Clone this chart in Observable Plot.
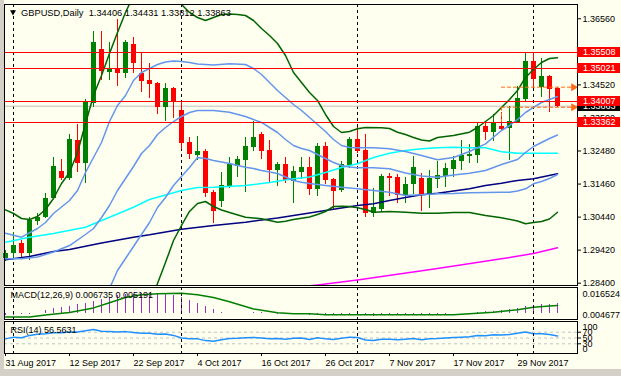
<!DOCTYPE html>
<html><head><meta charset="utf-8">
<script src="https://cdn.jsdelivr.net/npm/d3@7"></script>
<script src="https://cdn.jsdelivr.net/npm/@observablehq/plot@0.6"></script>
<style>
html,body{margin:0;padding:0;background:#ffffff;}
#chart{position:relative;width:621px;height:376px;background:#FFFFF0;overflow:hidden;font-family:"Liberation Sans",Arial,sans-serif;}
#chart svg{position:absolute;left:0;max-width:none;}
.strip{position:absolute;background:#D4D0C8;}
</style></head><body>
<div id="chart"><div class="strip" style="left:0;top:0;width:4px;height:376px"></div><div class="strip" style="left:0;top:369px;width:621px;height:7px"></div></div>
<script>
// ---------------- DATA ----------------
const symbolTitle = "GBPUSD,Daily  1.34406 1.34431 1.33812 1.33863";
const dateLabels = ["31 Aug 2017","12 Sep 2017","22 Sep 2017","4 Oct 2017","16 Oct 2017","26 Oct 2017","7 Nov 2017","17 Nov 2017","29 Nov 2017"];
const dateTickBars = [0,8,16,24,32,40,48,56,64];
const separatorBars = [1,22,44,66];

const open = [1.29153,1.29307,1.29616,1.29307,1.30314,1.30419,1.31005,1.31848,1.31622,1.32804,
1.32085,1.33956,1.35604,1.34912,1.34986,1.34881,1.35767,1.34881,1.34656,1.34573,
1.33832,1.3441,1.3373,1.32743,1.32351,1.32465,1.31209,1.30931,1.31385,1.32002,
1.32187,1.32598,1.3299,1.32496,1.31878,1.32064,1.31548,1.31826,1.3198,1.31292,
1.32619,1.31601,1.31261,1.32033,1.32835,1.32496,1.3056,1.30675,1.31702,1.31672,
1.31107,1.31437,1.31622,1.31107,1.31601,1.31693,1.31909,1.32165,1.3232,1.32341,
1.33236,1.3306,1.33246,1.33165,1.33369,1.3406,1.35243,1.34431,1.3478,1.34406];
const high = [1.29409,1.29974,1.29718,1.30437,1.3056,1.31178,1.32289,1.32209,1.3299,1.33289,
1.3406,1.36169,1.36169,1.35838,1.3653,1.35891,1.35993,1.3553,1.35172,1.34604,
1.34573,1.34449,1.34017,1.32906,1.32928,1.32517,1.31261,1.31826,1.32289,1.3232,
1.32906,1.33391,1.3306,1.32804,1.32135,1.32289,1.32002,1.32289,1.32289,1.32721,
1.32752,1.31622,1.32165,1.32906,1.33196,1.3299,1.31314,1.31755,1.31777,1.31755,
1.31672,1.3232,1.31777,1.31878,1.32156,1.32085,1.3232,1.32804,1.32681,1.33369,
1.33369,1.33607,1.33678,1.33854,1.34471,1.35499,1.35499,1.35344,1.34811,1.34431];
const low = [1.29079,1.29153,1.29153,1.29101,1.30181,1.30388,1.30974,1.3157,1.3157,1.31826,
1.31486,1.33814,1.34656,1.34656,1.34471,1.34709,1.34863,1.34295,1.34091,1.33607,
1.334,1.33474,1.32517,1.32209,1.32187,1.31054,1.30252,1.30746,1.31314,1.31672,
1.31209,1.32474,1.32218,1.31517,1.31385,1.31486,1.30869,1.31591,1.31107,1.31076,
1.31446,1.30675,1.31209,1.31931,1.32394,1.30437,1.30419,1.30591,1.31076,1.30851,
1.30851,1.31128,1.30622,1.30696,1.31314,1.31344,1.31672,1.31878,1.32085,1.32104,
1.32804,1.32783,1.33091,1.32187,1.33351,1.34017,1.344,1.34122,1.33678,1.33812];
const close = [1.29307,1.29564,1.29307,1.30335,1.30437,1.31005,1.32002,1.31622,1.32835,1.32085,
1.33986,1.35838,1.34934,1.35017,1.34881,1.3582,1.3519,1.34635,1.34533,1.33832,
1.344,1.34008,1.32721,1.32363,1.32465,1.31178,1.30622,1.31415,1.32054,1.32218,
1.32619,1.32906,1.32474,1.31878,1.32064,1.3157,1.31848,1.3198,1.31292,1.32619,
1.3157,1.3123,1.32064,1.32835,1.32474,1.3056,1.30727,1.31693,1.31641,1.31107,
1.31446,1.31962,1.31107,1.31622,1.31724,1.31931,1.32187,1.32341,1.32372,1.33236,
1.3306,1.33338,1.33144,1.33391,1.34091,1.35252,1.34678,1.34789,1.34378,1.33863];

const priceTicks = [1.3656,1.3452,1.335,1.3248,1.3146,1.3044,1.2942,1.284];
const levelLines = [1.35508,1.35021,1.34007,1.33362];
const bidPrice = 1.33863;
const orderLevels = [1.3445,1.3383];
const orderStartBar = 62, orderEndBar = 71, orderDropTo = 1.33369;

// Bollinger-style bands [bar, price]
const bbMid = [[0,1.29153],[2,1.29153],[4,1.29208],[6,1.29363],[8,1.29563],[10,1.29903],[11,1.30088],[12,1.30428],[13,1.30798],[14,1.31261],[15,1.31631],[16,1.32002],[17,1.32403],[18,1.3265],[19,1.32989],[20,1.33205],[21,1.3339],[22,1.33545],[23,1.33668],[24,1.3373],[26,1.3373],[28,1.33678],[30,1.33545],[31,1.33452],[32,1.3336],[33,1.33205],[34,1.33051],[35,1.32835],[36,1.3265],[37,1.32557],[38,1.32495],[39,1.32372],[40,1.32248],[41,1.32125],[42,1.32032],[43,1.31986],[44,1.31961],[46,1.31961],[48,1.31931],[50,1.31801],[52,1.31708],[54,1.31671],[56,1.31739],[58,1.31795],[60,1.31878],[62,1.32063],[63,1.3214],[64,1.32218],[65,1.32434],[66,1.32619],[67,1.32742],[68,1.32866],[69,1.32974]];
const bbUp1 = [[0,1.29943],[2,1.2982],[4,1.30088],[5,1.30273],[6,1.30551],[8,1.30952],[9,1.31261],[10,1.31816],[11,1.32279],[12,1.32742],[13,1.3339],[14,1.33884],[15,1.34193],[16,1.34656],[17,1.34903],[18,1.35026],[19,1.3515],[20,1.35227],[21,1.35258],[22,1.35242],[23,1.35211],[24,1.35165],[26,1.35134],[28,1.35171],[30,1.3515],[31,1.35026],[32,1.34841],[33,1.34594],[34,1.34347],[35,1.34131],[36,1.33915],[37,1.3373],[38,1.33514],[39,1.33298],[40,1.33082],[41,1.32835],[42,1.3265],[43,1.32588],[44,1.32579],[46,1.32579],[48,1.32548],[50,1.32465],[52,1.32341],[54,1.32208],[56,1.32279],[58,1.32465],[60,1.32702],[62,1.33113],[63,1.33267],[64,1.33452],[65,1.33668],[66,1.33823],[67,1.33977],[68,1.3407],[69,1.34162]];
const bbLo1 = [[12,1.2787],[13,1.28236],[14,1.28792],[15,1.29162],[16,1.29533],[17,1.29903],[18,1.30273],[19,1.30736],[20,1.31045],[21,1.31415],[22,1.31693],[23,1.31971],[24,1.32279],[25,1.32248],[26,1.32187],[28,1.32094],[30,1.3198],[31,1.3194],[32,1.31878],[34,1.31786],[36,1.3157],[37,1.31517],[38,1.31477],[40,1.31415],[42,1.31363],[44,1.31313],[46,1.31261],[48,1.31208],[50,1.31107],[52,1.31128],[54,1.31159],[56,1.31168],[58,1.3119],[60,1.31199],[62,1.31208],[63,1.31208],[64,1.31245],[65,1.31313],[66,1.31468],[67,1.31539],[68,1.31631],[69,1.31755]];
const bbUp2 = [[0,1.30665],[1,1.30551],[2,1.30397],[3,1.30366],[4,1.30458],[5,1.30674],[6,1.31014],[7,1.31477],[8,1.31816],[9,1.32434],[10,1.33329],[11,1.34193],[12,1.3481],[13,1.35489],[14,1.3614],[15,1.36755],[16,1.3728],[17,1.3759],[18,1.3774],[19,1.378],[20,1.3768],[21,1.3737],[22,1.37002],[23,1.36755],[24,1.366],[25,1.36508],[26,1.366],[27,1.36693],[28,1.36708],[29,1.36693],[30,1.36662],[31,1.36508],[32,1.36261],[33,1.36045],[34,1.35798],[35,1.35428],[36,1.34903],[37,1.34594],[38,1.34286],[39,1.34039],[40,1.33607],[41,1.33236],[42,1.33051],[43,1.33082],[44,1.33165],[45,1.33205],[47,1.33196],[48,1.33174],[49,1.3306],[50,1.32989],[51,1.32897],[52,1.3282],[53,1.32789],[54,1.32897],[56,1.32958],[58,1.3306],[59,1.33205],[60,1.33391],[61,1.33576],[62,1.33823],[63,1.3407],[64,1.34347],[65,1.34749],[66,1.34995],[67,1.35211],[68,1.35335],[69,1.35357]];
const bbLo2 = [[18,1.2767],[19,1.28391],[20,1.29039],[21,1.29718],[22,1.30181],[23,1.30613],[24,1.3086],[25,1.30921],[26,1.30767],[27,1.30659],[28,1.30582],[30,1.30437],[32,1.30387],[34,1.30283],[35,1.30313],[36,1.30366],[38,1.30443],[39,1.3052],[40,1.30613],[41,1.30767],[42,1.30776],[43,1.30767],[44,1.30727],[45,1.30674],[46,1.30591],[48,1.30613],[50,1.30591],[52,1.3056],[54,1.3056],[56,1.30582],[58,1.30582],[60,1.30489],[62,1.30418],[64,1.3032],[65,1.30233],[66,1.30273],[67,1.30304],[68,1.30381],[69,1.30591]];
// moving averages [bar, price]
const maAqua = [[0,1.29665],[3,1.2982],[6,1.29934],[10,1.30128],[13,1.30437],[16,1.30745],[18,1.30983],[19,1.31054],[22,1.31261],[24,1.31353],[26,1.31363],[30,1.31415],[33,1.31508],[36,1.31622],[38,1.31678],[40,1.31816],[42,1.31971],[44,1.32085],[46,1.32279],[48,1.32412],[50,1.32495],[52,1.32548],[54,1.32579],[56,1.32597],[58,1.32579],[60,1.32579],[61,1.32517],[62,1.32455],[64,1.32412],[69,1.32412]];
const maNavy = [[0,1.29122],[3,1.29224],[6,1.29378],[8,1.2944],[12,1.2964],[16,1.2982],[18,1.29894],[20,1.2998],[22,1.30063],[26,1.30181],[30,1.30283],[34,1.30412],[36,1.30489],[40,1.30644],[44,1.30798],[46,1.3085],[48,1.30952],[50,1.31045],[52,1.31128],[54,1.31178],[58,1.31313],[60,1.31415],[62,1.31486],[64,1.3157],[66,1.31622],[69,1.31776]];
const maMagenta = [[36,1.28267],[39,1.28344],[44,1.28499],[54,1.28853],[62,1.29153],[66,1.29316],[69,1.29492]];

// MACD(12,26,9)
const macdTitle = "MACD(12,26,9) 0.006735 0.005191";
const macdScaleLabels = ["0.016524","0.004677"];
const macdHist = [-0.0015,-0.0012,-0.001,-0.0008,-0.0003,0.0018,0.0029,0.004,0.0046,0.0057,
0.0066,0.0079,0.009,0.0105,0.0116,0.0123,0.0127,0.0131,0.0134,0.0131,
0.0127,0.0116,0.0105,0.0083,0.0066,0.0044,0.0023,0.0007,0.0002,-0.0002,
0.0001,0.0004,0.0004,-0.0003,-0.0006,-0.0008,-0.0009,-0.0008,-0.0012,-0.0008,
-0.001,-0.0014,-0.0012,-0.0006,-0.0006,-0.0016,-0.002,-0.0016,-0.0014,-0.0016,
-0.0015,-0.0011,-0.0013,-0.0011,-0.0009,-0.0006,-0.0003,0,0.0002,0.0007,
0.0012,0.0015,0.0018,0.0023,0.0029,0.0044,0.0051,0.0057,0.0062,0.006735];
const macdSignal = [[0,-0.0025],[3,-0.0025],[5,-0.0012],[8,0.0005],[11,0.0036],[13,0.007],[15,0.0105],[17,0.0123],[19,0.0131],[22,0.0134],[24,0.0123],[26,0.0105],[28,0.0077],[31,0.0029],[34,0.0003],[36,-0.0003],[38,-0.0003],[40,-0.001],[56,-0.001],[59,0.0001],[61,0.0007],[64,0.0023],[66,0.004],[68,0.0049],[69,0.005191]];

// RSI(14)
const rsiTitle = "RSI(14) 56.5631";
const rsiValues = [47,53,51,59,63,65,68,68,71,71,75,79,73,72,71,72,69,66,66,63,
64,59,50,47,47,41,39,44,48,49,51,52,50,47,48,46,49,50,45,51,
47,45,49,53,52,43,41,46,46,44,46,48,44,47,48,50,52,53,54,59,
58,61,60,62,66,71,65,65,62,56.5631];
const rsiLevels = [70,50,30];
const rsiScaleLabels = ["100","0"];

// ---------------- STYLE ----------------
const W = 621;
const FONT = '"Liberation Sans", Arial, sans-serif';
const X_DOMAIN = [-0.125, 71.5];
const BULL = "#008000", BEAR = "#FF0000";
const root = document.getElementById("chart");
const baseStyle = {background:"transparent", fontFamily:FONT, fontSize:"9px", color:"#000", overflow:"visible"};
function place(el, top){ el.style.position="absolute"; el.style.left="0px"; el.style.top=top+"px"; root.appendChild(el); }
const lineXY = {x:d=>d[0], y:d=>d[1]};
const sep = () => Plot.ruleX(separatorBars, {x:d=>d, stroke:"#000", strokeDasharray:"3,3", shapeRendering:"crispEdges"});

const candles = open.map((o,i)=>({i, o, h:high[i], l:low[i], c:close[i]}));
const bulls = candles.filter(d=>d.c>=d.o), bears = candles.filter(d=>d.c<d.o);
const HALF = 0.3125;

// ---------------- MAIN PANEL ----------------
const main = Plot.plot({
  width:W, height:290, marginTop:4, marginBottom:5, marginLeft:4, marginRight:44,
  style:baseStyle,
  x:{domain:X_DOMAIN, axis:null},
  y:{domain:[1.283288,1.370015], axis:null},
  marks:[
    sep(),
    Plot.ruleY([bidPrice], {stroke:"#C0C0C0"}),
    Plot.ruleX(bulls, {x:"i", y1:"l", y2:"h", stroke:BULL, shapeRendering:"crispEdges"}),
    Plot.ruleX(bears, {x:"i", y1:"l", y2:"h", stroke:BEAR, shapeRendering:"crispEdges"}),
    Plot.rect(bulls, {x1:d=>d.i-HALF, x2:d=>d.i+HALF, y1:"o", y2:"c", fill:BULL, shapeRendering:"crispEdges"}),
    Plot.rect(bears, {x1:d=>d.i-HALF, x2:d=>d.i+HALF, y1:"o", y2:"c", fill:BEAR, shapeRendering:"crispEdges"}),
    Plot.line(maMagenta, {...lineXY, stroke:"#FF00FF", clip:true}),
    Plot.line(maNavy, {...lineXY, stroke:"#000080", clip:true}),
    Plot.line(maAqua, {...lineXY, stroke:"#00FFFF", clip:true}),
    Plot.line(bbLo2, {...lineXY, stroke:"#006400", clip:true}),
    Plot.line(bbUp2, {...lineXY, stroke:"#006400", clip:true}),
    Plot.line(bbLo1, {...lineXY, stroke:"#6495ED", clip:true}),
    Plot.line(bbUp1, {...lineXY, stroke:"#6495ED", clip:true}),
    Plot.line(bbMid, {...lineXY, stroke:"#6495ED", clip:true}),
    Plot.ruleY(levelLines, {stroke:"#FF0000", shapeRendering:"crispEdges"}),
    Plot.ruleY(orderLevels, {x1:orderStartBar, x2:orderEndBar, stroke:"#FF6A13", strokeDasharray:"4,2"}),
    Plot.ruleX([orderStartBar], {y1:orderLevels[1], y2:orderDropTo, stroke:"#FF6A13", strokeDasharray:"4,2"}),
    Plot.dot(orderLevels, {x:orderEndBar, y:d=>d, symbol:"triangle", rotate:90, r:3, fill:"#FF6A13", stroke:null}),
    Plot.axisY(priceTicks, {anchor:"right", tickSize:3, tickPadding:2, tickFormat:d3.format(".5f")}),
    Plot.frame({stroke:"#000"}),
    Plot.dot([0], {frameAnchor:"top-left", dx:8.5, dy:7.5, symbol:"triangle", rotate:180, r:2.2, fill:"#000", stroke:null}),
    Plot.text([symbolTitle], {frameAnchor:"top-left", dx:16.5, dy:5, lineAnchor:"top", textAnchor:"start", fill:"#000", fontSize:9.3})
  ]
});
place(main, 0);

// price labels with coloured boxes on the right scale
(function(){
  const ys = main.scale("y");
  const yOf = ys.apply ? (v=>ys.apply(v)) : d3.scaleLinear(ys.domain, ys.range);
  const g = d3.select(main).append("g").attr("font-family", FONT).attr("font-size", 9).attr("text-anchor","start");
  function label(v, bg){
    const y = Math.round(yOf(v));
    g.append("rect").attr("x",577).attr("y",y-5).attr("width",43).attr("height",10).attr("fill",bg);
    g.append("text").attr("x",583).attr("y",y).attr("dy","0.34em").attr("text-anchor","start").attr("fill","#fff").text(d3.format(".5f")(v));
  }
  label(bidPrice, "#000");
  levelLines.forEach(v=>label(v, "#FF0000"));
})();

// ---------------- MACD PANEL ----------------
const macdPlot = Plot.plot({
  width:W, height:34, marginTop:1, marginBottom:1, marginLeft:4, marginRight:44,
  style:baseStyle,
  x:{domain:X_DOMAIN, axis:null},
  y:{domain:[-0.004135,0.01721], axis:null},
  marks:[
    Plot.ruleX(macdHist.map((v,i)=>({i,v})), {x:"i", y1:0, y2:"v", stroke:"#9932CC", shapeRendering:"crispEdges"}),
    Plot.line(macdSignal, {...lineXY, stroke:BULL, clip:true}),
    sep(),
    Plot.frame({stroke:"#000"}),
    Plot.text([macdTitle], {frameAnchor:"top-left", dx:6, dy:4, lineAnchor:"top", textAnchor:"start", fill:"#000"}),
    Plot.text([macdScaleLabels[0]], {frameAnchor:"top-right", dx:5, dy:3, lineAnchor:"top", textAnchor:"start", fill:"#000"}),
    Plot.text([macdScaleLabels[1]], {frameAnchor:"bottom-right", dx:5, dy:-2, lineAnchor:"bottom", textAnchor:"start", fill:"#000"})
  ]
});
place(macdPlot, 286);

// ---------------- RSI PANEL ----------------
const rsiPlot = Plot.plot({
  width:W, height:56, marginTop:1, marginBottom:23, marginLeft:4, marginRight:44,
  style:baseStyle,
  x:{domain:X_DOMAIN, axis:null},
  y:{domain:[-3.45,106.9], axis:null},
  marks:[
    Plot.ruleY(rsiLevels, {stroke:"#C0C0C0", strokeDasharray:"3,3"}),
    Plot.line(rsiValues.map((v,i)=>[i,v]), {...lineXY, stroke:"#1E90FF"}),
    sep(),
    Plot.frame({stroke:"#000"}),
    Plot.text([rsiTitle], {frameAnchor:"top-left", dx:6, dy:5, lineAnchor:"top", textAnchor:"start", fill:"#000"}),
    Plot.axisY(rsiLevels, {anchor:"right", tickSize:3, tickPadding:2}),
    Plot.text([rsiScaleLabels[0]], {frameAnchor:"top-right", dx:5, dy:2, lineAnchor:"top", textAnchor:"start", fill:"#000"}),
    Plot.text([rsiScaleLabels[1]], {frameAnchor:"bottom-right", dx:5, dy:-2, lineAnchor:"bottom", textAnchor:"start", fill:"#000"}),
    Plot.axisX(dateTickBars, {anchor:"bottom", tickSize:3, tickPadding:3, textAnchor:"start", tickFormat:d=>dateLabels[dateTickBars.indexOf(d)]})
  ]
});
place(rsiPlot, 320);
</script></body></html>
